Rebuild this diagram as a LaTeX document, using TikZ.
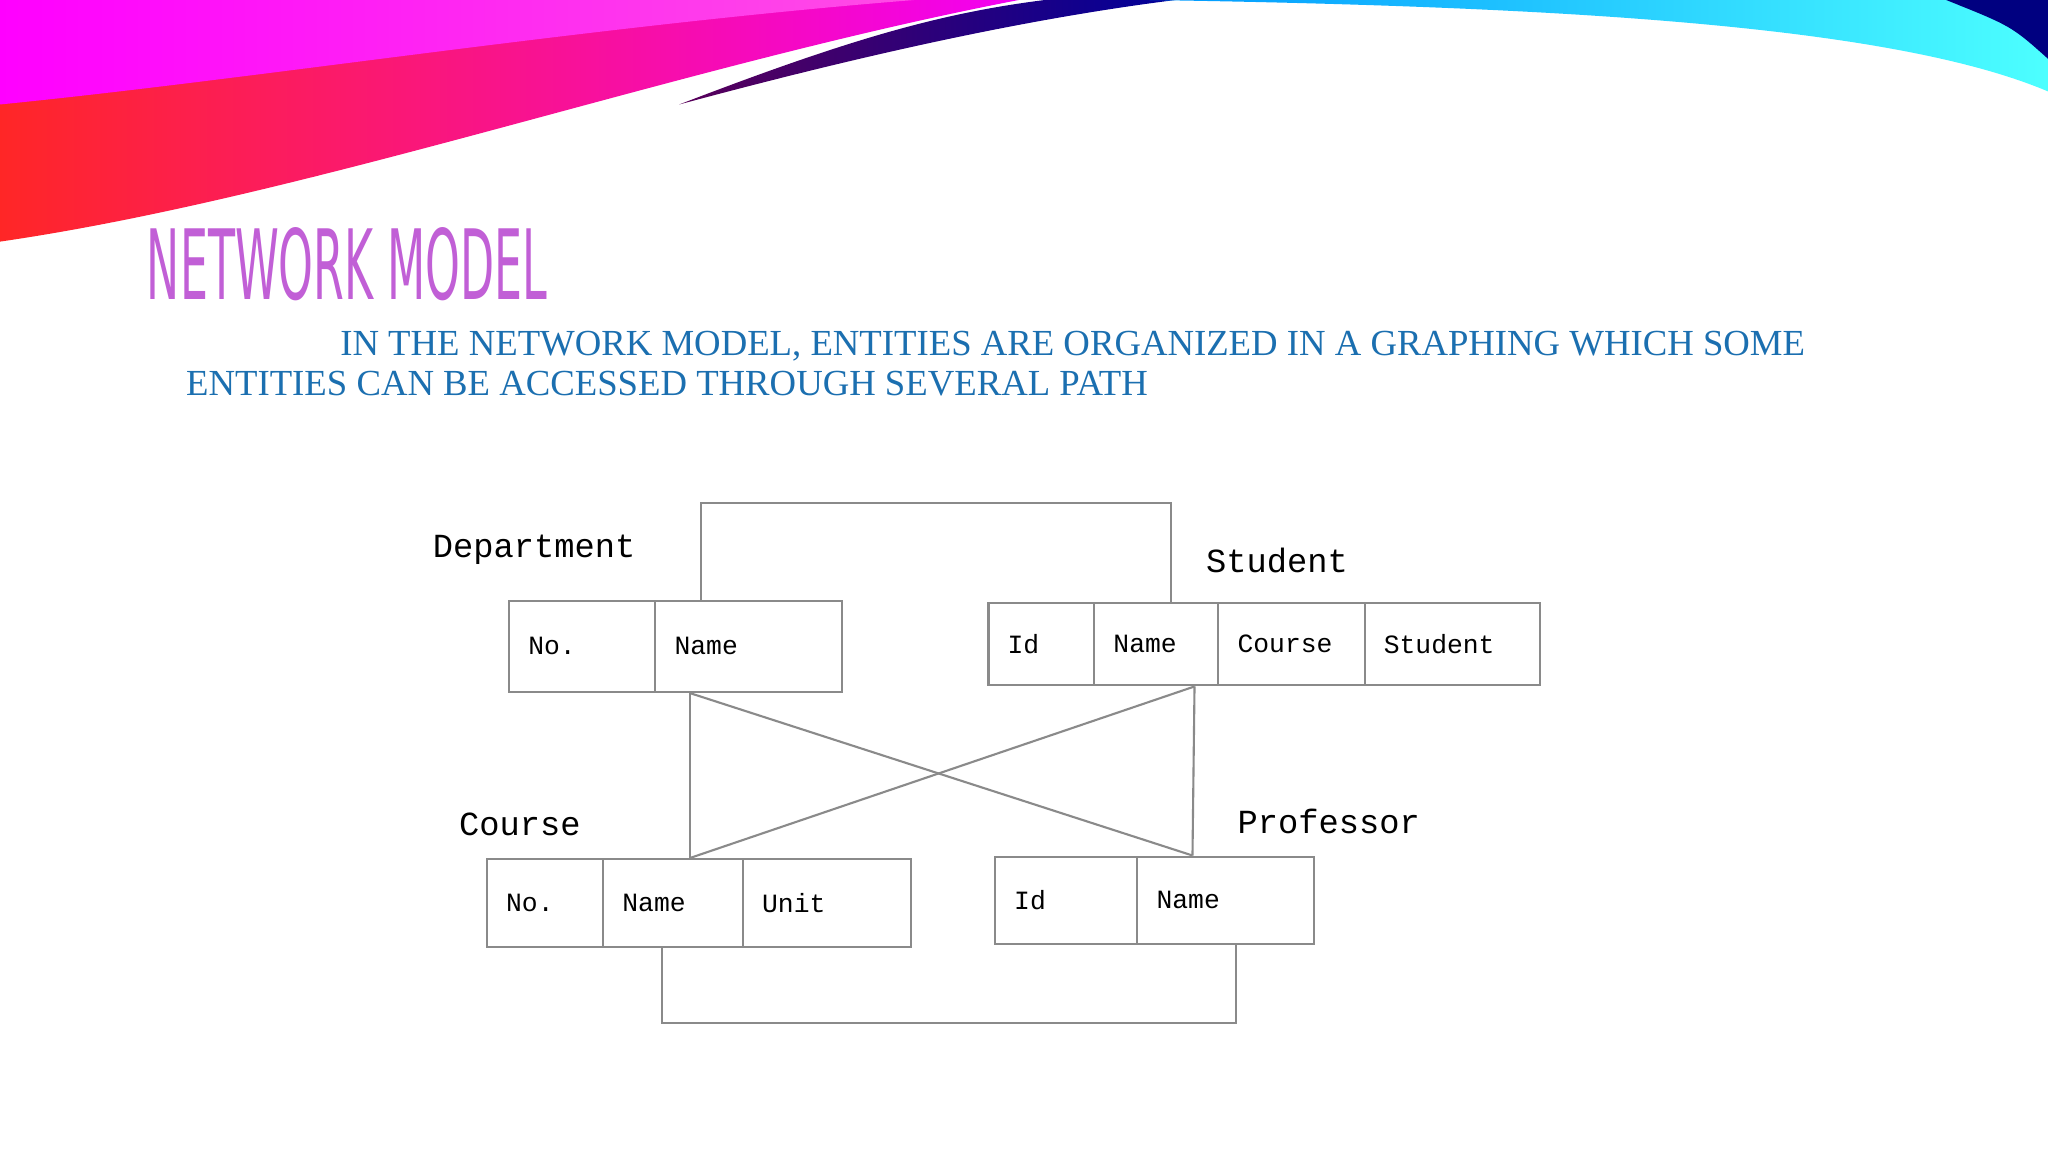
\documentclass[tikz,border=0pt]{standalone}
\usepackage{fontspec}
\setmainfont{Liberation Serif}
\setmonofont{Liberation Mono}
\newfontfamily\titlefont{DejaVu Sans}
\usetikzlibrary{calc}
\def\u{0.3714pt}
\definecolor{titlepurple}{HTML}{C15FD6}
\definecolor{textblue}{HTML}{1B6FB0}
\definecolor{boxgrey}{HTML}{8A8A8A}
\tikzset{
% cells of the record boxes and their labels
cell/.style={draw=boxgrey,line width=0.6pt,anchor=north west,inner sep=0pt},
record label/.style={anchor=west,font=\ttfamily\fontsize{9.6}{12}\selectfont},
link/.style={draw=boxgrey,line width=0.6pt}
}
\newcommand{\mkcell}[6]{%
  \node[cell,minimum width=#4*\u,minimum height=#5*\u,
    label={[anchor=west,xshift=6*\u,font=\ttfamily\fontsize{7.5}{9}\selectfont]west:#6}] (#1) at (#2,#3) {};}

\begin{document}
\begin{tikzpicture}[x=0.013061cm,y=-0.013061cm]
  \useasboundingbox[fill=white] (0,0) rectangle (1568,882);
  % top swoosh
  \shade[left color=red!80!pink,right color=magenta!90!violet]
    (0,0) -- (780,0) .. controls (520,50) and (240,150) .. (0,185) -- cycle;
  \shade[left color=magenta,right color=magenta!60!pink]
    (0,0) -- (700,0) .. controls (450,20) and (200,60) .. (0,80) -- cycle;
  \shade[left color=violet!70!black,right color=blue!60!black]
    (520,80) .. controls (650,30) and (720,10) .. (800,0) -- (900,0)
    .. controls (780,15) and (650,45) .. (520,80) -- cycle;
  \shade[left color=blue!40!cyan,right color=cyan!70]
    (880,0) -- (1568,0) -- (1568,70) .. controls (1450,20) and (1200,5) .. (880,0) -- cycle;
  \fill[blue!50!black] (1490,0) -- (1568,0) -- (1568,45) .. controls (1540,20) .. (1490,0) -- cycle;

  % title and text
  \node[anchor=west,text=titlepurple,inner sep=0pt] (title) at (112,202)
    {\scalebox{0.42}[0.92]{\titlefont\fontsize{30}{30}\selectfont NETWORK MODEL}};
  \node[anchor=west,text=textblue,inner sep=0pt,font=\fontsize{10.45}{12}\selectfont] (line1) at (260,265)
    {IN THE NETWORK MODEL, ENTITIES ARE ORGANIZED IN A GRAPHING WHICH SOME};
  \node[anchor=west,text=textblue,inner sep=0pt,font=\fontsize{10.45}{12}\selectfont] (line2) at (142,294)
    {ENTITIES CAN BE ACCESSED THROUGH SEVERAL PATH};

  % record labels
  \node[record label] (deplbl) at (322,421) {Department};
  \node[record label] (stulbl) at (914,429) {Student};
  \node[record label] (coulbl) at (342,631) {Course};
  \node[record label] (prolbl) at (938,629) {Professor};

  % Department
  \mkcell{dno}{389}{459}{112}{70}{No.}
  \mkcell{dname}{501}{459}{143}{70}{Name}
  % Student
  \mkcell{sid}{756}{461}{81}{63}{Id}
  \mkcell{sname}{837}{461}{95}{63}{Name}
  \mkcell{scourse}{932}{461}{112}{63}{Course}
  \mkcell{sstudent}{1044}{461}{134}{63}{Student}
  % Course
  \mkcell{cno}{372}{657}{89}{67}{No.}
  \mkcell{cname}{461}{657}{107}{67}{Name}
  \mkcell{cunit}{568}{657}{129}{67}{Unit}
  % Professor
  \mkcell{pid}{761}{655}{109}{67}{Id}
  \mkcell{pname}{870}{655}{135}{67}{Name}

  % connectors
  \coordinate (dtop) at ($(dname.north west)+(36,0)$);
  \coordinate (stop) at ($(sname.north east)+(-37,0)$);
  \coordinate (dbot) at ($(dname.south west)+(27,0)$);
  \coordinate (sbot) at ($(sname.south east)+(-19,0)$);
  \coordinate (ctop) at ($(cname.north west)+(67,0)$);
  \coordinate (ptop) at ($(pname.north west)+(43,0)$);
  \coordinate (cbot) at ($(cname.south west)+(46,0)$);
  \coordinate (pbot) at ($(pname.south west)+(76,0)$);
  \draw[link] (dtop) -- ++(0,-74) -| (stop);
  \draw[link] (cbot) -- ++(0,58) -| (pbot);
  \draw[link] (dbot) -- (ctop);
  \draw[link] (sbot) -- (ptop);
  \draw[link] (dbot) -- (ptop);
  \draw[link] (sbot) -- (ctop);
\end{tikzpicture}
\end{document}
